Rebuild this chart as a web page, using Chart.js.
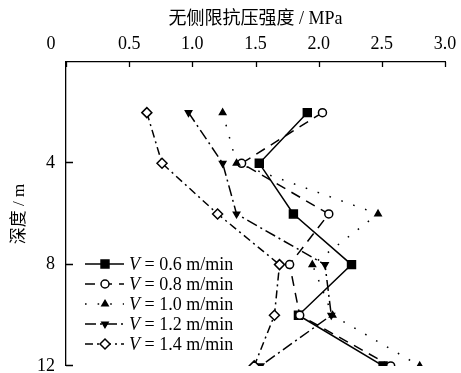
<!DOCTYPE html>
<html>
<head>
<meta charset="utf-8">
<script src="https://cdn.jsdelivr.net/npm/chart.js@4.4.0/dist/chart.umd.min.js"></script>
<style>
  html, body { margin: 0; padding: 0; background: #fff; }
  #wrap { width: 461px; height: 373px; position: relative; }
</style>
</head>
<body>
<div id="wrap"><canvas id="chart"></canvas></div>
<script>
// sampling depth (m)
const depths = [2, 4, 6, 8, 10, 12];

// unconfined compressive strength (MPa) per pulling speed V (m/min)
const v06 = [1.91, 1.53, 1.80, 2.26, 1.84, 2.51];
const v08 = [2.03, 1.39, 2.08, 1.77, 1.85, 2.57];
const v10 = [1.24, 1.35, 2.47, 1.95, 2.11, 2.80];
const v12 = [0.97, 1.24, 1.35, 2.05, 2.10, 1.54];
const v14 = [0.64, 0.76, 1.20, 1.69, 1.65, 1.49];

const speeds = ['0.6', '0.8', '1.0', '1.2', '1.4'];
const xTicks = [0, 0.5, 1.0, 1.5, 2.0, 2.5, 3.0];
const yTicks = [4, 8, 12];

const SERIF = "'Liberation Serif', 'Times New Roman', serif";
const CJK = "'Liberation Serif', 'Noto Sans CJK SC', serif";

// marker + line style per series
const styles = [
  { pointStyle: 'rect', radius: 5.6, fill: '#000', dash: [], rotation: 0 },
  { pointStyle: 'circle', radius: 4, fill: '#fff', dash: [10, 7], rotation: 0 },
  { pointStyle: 'triangle', radius: 3.6, fill: '#000', dash: [1.6, 11], rotation: 0 },
  { pointStyle: 'triangle', radius: 3.6, fill: '#000', dash: [11, 4, 2, 4], rotation: 180 },
  { pointStyle: 'rectRot', radius: 5, fill: '#fff', dash: [8, 4, 2, 4], rotation: 0 }
];

function toPoints(vals) {
  return depths.map((d, i) => ({ x: vals[i], y: d }));
}

const values = [v06, v08, v10, v12, v14];
const datasets = values.map((vals, i) => ({
  label: 'V = ' + speeds[i] + ' m/min',
  data: toPoints(vals),
  showLine: true,
  borderColor: '#000',
  borderWidth: 1.5,
  borderDash: styles[i].dash,
  pointStyle: styles[i].pointStyle,
  pointRadius: styles[i].radius,
  pointRotation: styles[i].rotation,
  pointBackgroundColor: styles[i].fill,
  pointBorderColor: '#000',
  pointBorderWidth: 1.5,
  order: 5 - i
}));

// inward tick marks, the shifted "0" label and the legend
const extras = {
  id: 'extras',
  afterDraw(chart) {
    const ctx = chart.ctx;
    const xs = chart.scales.x, ys = chart.scales.y;
    const area = chart.chartArea;
    ctx.save();
    ctx.strokeStyle = '#000';
    ctx.lineWidth = 1.3;
    ctx.setLineDash([]);
    ctx.beginPath();
    xTicks.forEach(t => {
      const px = Math.round(xs.getPixelForValue(t)) + 0.5;
      ctx.moveTo(px, area.top);
      ctx.lineTo(px, area.top + 5);
    });
    yTicks.forEach(t => {
      const py = Math.round(ys.getPixelForValue(t)) - 0.5;
      ctx.moveTo(area.left, py);
      ctx.lineTo(area.left + 7, py);
    });
    ctx.stroke();

    ctx.fillStyle = '#000';
    ctx.font = '18px ' + SERIF;
    ctx.textAlign = 'center';
    ctx.textBaseline = 'middle';
    ctx.fillText('0', xs.getPixelForValue(0) - 15, 44);

    // legend
    const lx0 = 85, lx1 = 124, mx = 105, tx = 129, ly0 = 264, step = 20;
    chart.data.datasets.forEach((ds, i) => {
      const y = ly0 + step * i;
      ctx.lineWidth = 1.5;
      ctx.setLineDash(ds.borderDash);
      ctx.beginPath();
      ctx.moveTo(lx0, y);
      ctx.lineTo(lx1, y);
      ctx.stroke();
      ctx.setLineDash([]);
      ctx.fillStyle = ds.pointBackgroundColor;
      ctx.strokeStyle = '#000';
      Chart.helpers.drawPoint(ctx, {
        pointStyle: ds.pointStyle,
        rotation: ds.pointRotation,
        radius: ds.pointRadius,
        borderWidth: 1.5
      }, mx, y);
      ctx.fillStyle = '#000';
      ctx.textAlign = 'left';
      ctx.font = 'italic 18px ' + SERIF;
      ctx.fillText('V', tx, y + 1);
      const w = ctx.measureText('V').width;
      ctx.font = '18px ' + SERIF;
      ctx.fillText(' = ' + speeds[i] + ' m/min', tx + w, y + 1);
    });
    ctx.restore();
  }
};

new Chart(document.getElementById('chart'), {
  type: 'scatter',
  data: { datasets },
  options: {
    responsive: true,
    maintainAspectRatio: false,
    animation: false,
    layout: { padding: { left: 0, top: 0, right: 16, bottom: 6 } },
    plugins: { legend: { display: false }, tooltip: { enabled: false } },
    scales: {
      x: {
        type: 'linear',
        position: 'top',
        min: 0,
        max: 3,
        afterBuildTicks: s => { s.ticks = xTicks.map(v => ({ value: v })); },
        afterFit: s => { s.height = 62; s.paddingLeft = 0; s.paddingRight = 0; },
        ticks: {
          color: '#000',
          font: { family: SERIF, size: 18 },
          padding: 7,
          maxRotation: 0,
          callback: v => (v === 0 ? '' : v.toFixed(1))
        },
        grid: { display: false, drawTicks: false },
        border: { display: true, color: '#000', width: 1.3 },
        title: {
          display: true,
          text: '无侧限抗压强度 / MPa',
          color: '#000',
          font: { family: CJK, size: 18 },
          padding: { top: 8, bottom: 0 }
        }
      },
      y: {
        type: 'linear',
        reverse: true,
        min: 0,
        max: 12,
        afterBuildTicks: s => { s.ticks = [0].concat(yTicks).map(v => ({ value: v })); },
        afterFit: s => { s.width = 66; s.paddingTop = 0; s.paddingBottom = 0; },
        ticks: {
          color: '#000',
          font: { family: SERIF, size: 18 },
          padding: 11,
          callback: v => (v === 0 ? '' : String(v))
        },
        grid: { display: false, drawTicks: false },
        border: { display: true, color: '#000', width: 1.3 },
        title: {
          display: true,
          text: '深度 / m',
          color: '#000',
          font: { family: CJK, size: 17 },
          padding: { top: 9, bottom: 0 }
        }
      }
    }
  },
  plugins: [extras]
});
</script>
</body>
</html>
